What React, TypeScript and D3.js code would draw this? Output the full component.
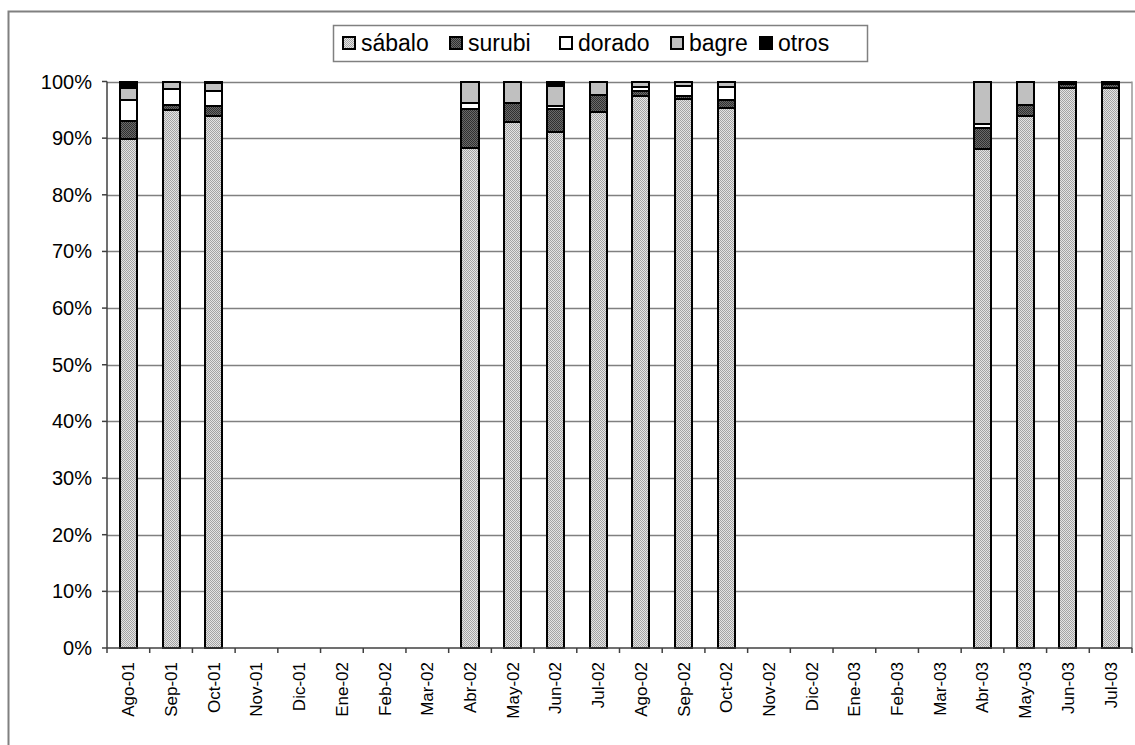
import React from "react";
import * as d3 from "d3";

// Monthly catch composition (% of total) by species
const months = [
  "Ago-01", "Sep-01", "Oct-01", "Nov-01", "Dic-01", "Ene-02", "Feb-02", "Mar-02",
  "Abr-02", "May-02", "Jun-02", "Jul-02", "Ago-02", "Sep-02", "Oct-02", "Nov-02",
  "Dic-02", "Ene-03", "Feb-03", "Mar-03", "Abr-03", "May-03", "Jun-03", "Jul-03",
];
const species = ["sábalo", "surubi", "dorado", "bagre", "otros"];

const sabalo = [89.8, 95.0, 93.9, null, null, null, null, null, 88.2, 92.8, 91.1, 94.7, 97.5, 96.9, 95.4, null, null, null, null, null, 88.0, 93.9, 98.9, 98.9];
const surubi = [3.3, 0.8, 1.8, null, null, null, null, null, 6.9, 3.4, 4.0, 2.9, 0.9, 0.5, 1.4, null, null, null, null, null, 3.8, 1.9, 0.6, 0.6];
const dorado = [3.7, 2.9, 2.6, null, null, null, null, null, 1.1, 0.0, 0.6, 0.0, 0.7, 1.8, 2.2, null, null, null, null, null, 0.7, 0.1, 0.0, 0.0];
const bagre = [2.0, 1.3, 1.4, null, null, null, null, null, 3.8, 3.8, 3.5, 2.4, 0.9, 0.8, 1.0, null, null, null, null, null, 7.5, 4.1, 0.5, 0.5];
const otros = [1.2, 0.0, 0.3, null, null, null, null, null, 0.0, 0.0, 0.8, 0.0, 0.0, 0.0, 0.0, null, null, null, null, null, 0.0, 0.0, 0.0, 0.0];

const yTicks = [0, 10, 20, 30, 40, 50, 60, 70, 80, 90, 100];

const seriesValues = [sabalo, surubi, dorado, bagre, otros];
const fills = ["url(#pat-sabalo)", "url(#pat-surubi)", "#ffffff", "#c0c0c0", "#000000"];

const FONT = "Arial, 'Liberation Sans', sans-serif";

export default function App() {
  const width = 1135;
  const height = 745;
  const plot = { left: 107, right: 1132, top: 81.5, bottom: 648 };

  const x = d3
    .scaleBand<string>()
    .domain(months)
    .range([plot.left, plot.right])
    .paddingInner(0.6)
    .paddingOuter(0.3);
  const step = (plot.right - plot.left) / months.length;
  const y = d3.scaleLinear().domain([0, 100]).range([plot.bottom, plot.top]);

  const rows = months
    .map((m, i) => {
      const row: Record<string, number | string> = { month: m };
      species.forEach((s, k) => (row[s] = seriesValues[k][i] ?? 0));
      return { row, has: sabalo[i] != null };
    });
  const stack = d3.stack<Record<string, number | string>>().keys(species);
  const stacked = stack(rows.map((r) => r.row));

  const legendItems = [
    { x: 343, label: species[0] },
    { x: 450, label: species[1] },
    { x: 560, label: species[2] },
    { x: 671, label: species[3] },
    { x: 760, label: species[4] },
  ];

  return (
    <svg
      width={width}
      height={height}
      style={{ position: "absolute", left: 0, top: 0, background: "#fff" }}
    >
      <defs>
        <pattern id="pat-sabalo" width={2} height={2} patternUnits="userSpaceOnUse">
          <rect width={2} height={2} fill="#e4e4e4" />
          <rect x={0} y={0} width={1} height={1} fill="#a4a4a4" />
          <rect x={1} y={1} width={1} height={1} fill="#a4a4a4" />
        </pattern>
        <pattern id="pat-surubi" width={2} height={2} patternUnits="userSpaceOnUse">
          <rect width={2} height={2} fill="#6a6a6a" />
          <rect x={0} y={0} width={1} height={1} fill="#303030" />
          <rect x={1} y={1} width={1} height={1} fill="#303030" />
        </pattern>
      </defs>

      {/* outer chart frame */}
      <rect x={8.5} y={11.5} width={1140} height={760} fill="none" stroke="#808080" strokeWidth={2} />

      {/* gridlines */}
      {yTicks.slice(1).map((t) => (
        <line key={t} x1={plot.left} x2={plot.right} y1={Math.round(y(t)) + 0.5} y2={Math.round(y(t)) + 0.5} stroke="#808080" strokeWidth={1.5} />
      ))}
      <line x1={plot.right} x2={plot.right} y1={plot.top} y2={plot.bottom} stroke="#999" strokeWidth={1.5} />

      {/* stacked bars */}
      {stacked.map((layer, k) => (
        <g key={species[k]}>
          {layer.map((d, i) => {
            if (!rows[i].has) return null;
            const v = d[1] - d[0];
            if (v <= 0) return null;
            return (
              <rect
                key={i}
                x={x(months[i])}
                y={y(d[1])}
                width={x.bandwidth()}
                height={y(d[0]) - y(d[1])}
                fill={fills[k]}
                stroke="#000"
                strokeWidth={2}
                shapeRendering="crispEdges"
              />
            );
          })}
        </g>
      ))}

      {/* y axis */}
      <line x1={plot.left} x2={plot.left} y1={plot.top} y2={plot.bottom} stroke="#404040" strokeWidth={1.5} />
      {yTicks.map((t) => (
        <g key={t}>
          <line x1={plot.left - 5} x2={plot.left} y1={y(t)} y2={y(t)} stroke="#404040" strokeWidth={1.5} />
          <text x={92} y={y(t)} dy="0.35em" textAnchor="end" fontFamily={FONT} fontSize={20} fill="#000">
            {t}%
          </text>
        </g>
      ))}

      {/* x axis */}
      <line x1={plot.left} x2={plot.right} y1={plot.bottom} y2={plot.bottom} stroke="#404040" strokeWidth={1.5} />
      {d3.range(months.length + 1).map((i) => (
        <line key={i} x1={plot.left + i * step} x2={plot.left + i * step} y1={plot.bottom} y2={plot.bottom + 5} stroke="#404040" strokeWidth={1.5} />
      ))}
      {months.map((m) => {
        const cx = (x(m) ?? 0) + x.bandwidth() / 2;
        return (
          <text
            key={m}
            transform={`translate(${cx},${plot.bottom + 14}) rotate(-90)`}
            dy="0.35em"
            textAnchor="end"
            fontFamily={FONT}
            fontSize={17}
            fill="#000"
          >
            {m}
          </text>
        );
      })}

      {/* legend */}
      <rect x={333.5} y={25.5} width={534} height={36} fill="#fff" stroke="#808080" strokeWidth={1.5} />
      {legendItems.map((it, k) => (
        <g key={it.label}>
          <rect x={it.x} y={37} width={12} height={12} fill={fills[k]} stroke="#000" strokeWidth={1.5} shapeRendering="crispEdges" />
          <text x={it.x + 18} y={43} dy="0.36em" fontFamily={FONT} fontSize={23} fill="#000">
            {it.label}
          </text>
        </g>
      ))}
    </svg>
  );
}
